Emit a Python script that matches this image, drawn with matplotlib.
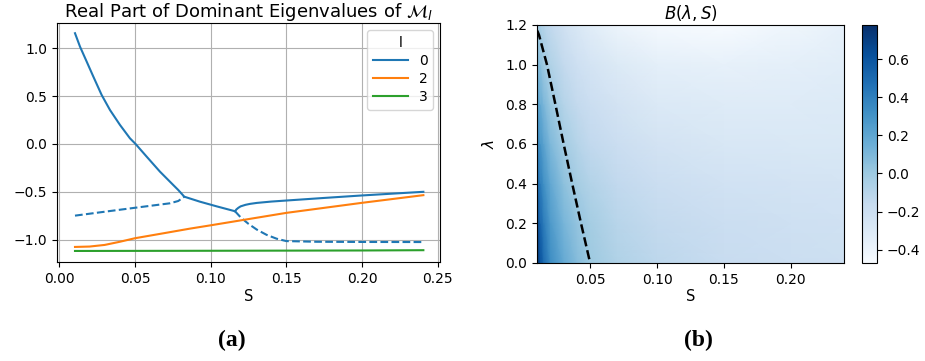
import numpy as np
import matplotlib
matplotlib.use("Agg")
import matplotlib.pyplot as plt

# ---- panel (a): real part of dominant eigenvalues vs S ----
l0_main_s = [0.0104, 0.0137, 0.0181, 0.0225, 0.0280, 0.0335, 0.0401, 0.0467,
             0.0504, 0.0577, 0.0665, 0.0753, 0.0786, 0.0826, 0.0929, 0.1040,
             0.1161]
l0_main_v = [1.157, 1.017, 0.861, 0.704, 0.512, 0.355, 0.199, 0.059,
             0.0, -0.132, -0.289, -0.429, -0.481, -0.551, -0.603, -0.652,
             -0.703]
l0_up_s = [0.1161, 0.1170, 0.1183, 0.1198, 0.1230, 0.1260, 0.1305, 0.140,
           0.150, 0.175, 0.200, 0.2405]
l0_up_v = [-0.703, -0.684, -0.667, -0.652, -0.636, -0.626, -0.616, -0.602,
           -0.591, -0.564, -0.538, -0.500]
l0_lowA_s = [0.0104, 0.0300, 0.0504, 0.0731, 0.0786, 0.0826]
l0_lowA_v = [-0.749, -0.708, -0.666, -0.620, -0.596, -0.551]
l0_lowB_s = [0.1161, 0.1200, 0.1250, 0.1305, 0.1370, 0.1436, 0.150, 0.170,
             0.200, 0.2405]
l0_lowB_v = [-0.703, -0.770, -0.835, -0.895, -0.950, -0.990, -1.015, -1.022,
             -1.024, -1.025]
l2_s = [0.0104, 0.02, 0.03, 0.04, 0.05, 0.07, 0.0862, 0.10, 0.15, 0.20, 0.2405]
l2_v = [-1.076, -1.072, -1.055, -1.022, -0.985, -0.930, -0.885, -0.850,
        -0.720, -0.615, -0.535]
l3_s = [0.0104, 0.10, 0.20, 0.2405]
l3_v = [-1.118, -1.116, -1.113, -1.110]
legend_labels = ["0", "2", "3"]

# ---- panel (b): B(lambda, S) ----
grid_s = [0.01, 0.0125, 0.015, 0.02, 0.03, 0.04, 0.05, 0.07, 0.10, 0.15, 0.20, 0.24]
grid_lam = [0.0, 0.2, 0.4, 0.6, 0.8, 1.0, 1.2]
B_rows = [
    [0.78, 0.62, 0.50, 0.34, 0.18, 0.08, 0.00, -0.07, -0.12, -0.17, -0.19, -0.20],
    [0.66, 0.52, 0.42, 0.27, 0.12, 0.03, -0.03, -0.10, -0.15, -0.19, -0.21, -0.22],
    [0.52, 0.41, 0.32, 0.19, 0.05, -0.03, -0.08, -0.14, -0.19, -0.23, -0.24, -0.25],
    [0.38, 0.29, 0.22, 0.10, -0.02, -0.09, -0.14, -0.19, -0.24, -0.27, -0.28, -0.28],
    [0.24, 0.17, 0.11, 0.01, -0.09, -0.15, -0.19, -0.24, -0.29, -0.31, -0.31, -0.30],
    [0.10, 0.05, -0.005, -0.07, -0.15, -0.21, -0.25, -0.30, -0.35, -0.37, -0.35, -0.33],
    [-0.03, -0.06, -0.09, -0.14, -0.22, -0.28, -0.33, -0.40, -0.45, -0.47, -0.42, -0.37],
]
# zero level of B (dashed curve)
zero_s = [0.0492, 0.0430, 0.0364, 0.0300, 0.0238, 0.0175, 0.0115, 0.0100]
zero_lam = [0.019, 0.200, 0.400, 0.600, 0.800, 1.000, 1.150, 1.175]

plt.rcParams["font.family"] = ["DejaVu Sans"]
fig = plt.figure(figsize=(9.25, 3.61), dpi=100)

blue, orange, green = "#1f77b4", "#ff7f0e", "#2ca02c"

ax1 = fig.add_axes([0.0616, 0.2742, 0.4141, 0.6620])
h0, = ax1.plot(l0_main_s, l0_main_v, color=blue, lw=1.5)
ax1.plot(l0_up_s, l0_up_v, color=blue, lw=1.5)
ax1.plot(l0_lowA_s, l0_lowA_v, color=blue, lw=1.5, ls="--")
ax1.plot(l0_lowB_s, l0_lowB_v, color=blue, lw=1.5, ls="--")
h2, = ax1.plot(l2_s, l2_v, color=orange, lw=1.5)
h3, = ax1.plot(l3_s, l3_v, color=green, lw=1.5)
ax1.set_xlim(-0.0015, 0.2515)
ax1.set_ylim(-1.2335, 1.2635)
ax1.set_xticks([0.0, 0.05, 0.10, 0.15, 0.20, 0.25])
ax1.set_yticks([-1.0, -0.5, 0.0, 0.5, 1.0])
ax1.grid(True, color="#b0b0b0", lw=0.8)
ax1.set_axisbelow(True)
ax1.tick_params(labelsize=10)
ax1.set_xlabel("S", fontsize=10.5, labelpad=2)
ax1.set_title(r"Real Part of Dominant Eigenvalues of $\mathcal{M}_l$", fontsize=13, pad=4)
leg = ax1.legend([h0, h2, h3], legend_labels, title="l", loc="upper right",
                 fontsize=10, title_fontsize=10, borderaxespad=0.5,
                 labelspacing=0.3, handlelength=2.5)

ax2 = fig.add_axes([0.5805, 0.2715, 0.3319, 0.6593])
S = np.array(grid_s)
L = np.array(grid_lam)
B = np.array(B_rows)
mesh = ax2.pcolormesh(S, L, B, shading="gouraud", cmap="Blues",
                      vmin=B.min(), vmax=B.max(), rasterized=True)
ax2.plot(zero_s, zero_lam, color="k", ls="--", lw=1.8)
ax2.set_xlim(0.01, 0.24)
ax2.set_ylim(0.0, 1.2)
ax2.set_xticks([0.05, 0.10, 0.15, 0.20])
ax2.set_yticks([0.0, 0.2, 0.4, 0.6, 0.8, 1.0, 1.2])
ax2.tick_params(labelsize=10)
ax2.set_xlabel("S", fontsize=10.5, labelpad=2)
ax2.set_ylabel(r"$\lambda$", fontsize=11, labelpad=6)
ax2.set_title(r"$B(\lambda,S)$", fontsize=12, pad=4)

cax = fig.add_axes([0.9319, 0.2715, 0.0162, 0.6593])
cb = fig.colorbar(mesh, cax=cax)
cb.set_ticks([-0.4, -0.2, 0.0, 0.2, 0.4, 0.6])
cb.ax.tick_params(labelsize=10)

fig.text(0.251, 0.058, "(a)", ha="center", va="center", fontsize=17,
         fontweight="bold", family="Liberation Serif")
fig.text(0.755, 0.058, "(b)", ha="center", va="center", fontsize=17,
         fontweight="bold", family="Liberation Serif")

fig.savefig("out.png", dpi=100)
